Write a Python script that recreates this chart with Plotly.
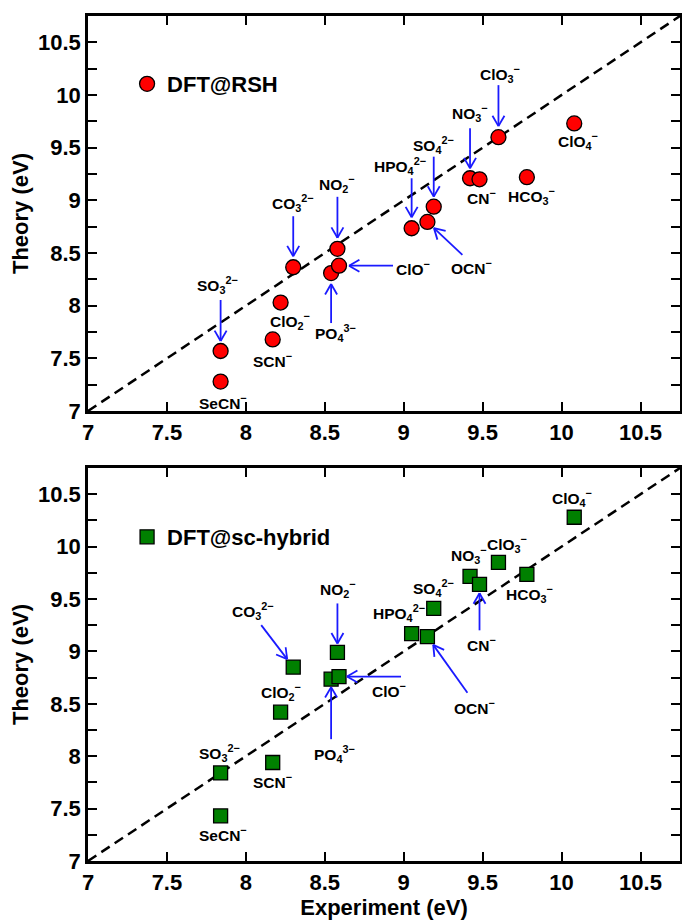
import math
import plotly.graph_objects as go

# ---------------- data ----------------
anions = ["SeCN<sup>−</sup>", "SO<sub>3</sub><sup>2−</sup>", "SCN<sup>−</sup>", "ClO<sub>2</sub><sup>−</sup>",
          "CO<sub>3</sub><sup>2−</sup>", "PO<sub>4</sub><sup>3−</sup>", "NO<sub>2</sub><sup>−</sup>", "ClO<sup>−</sup>",
          "HPO<sub>4</sub><sup>2−</sup>", "OCN<sup>−</sup>", "SO<sub>4</sub><sup>2−</sup>", "NO<sub>3</sub><sup>−</sup>",
          "CN<sup>−</sup>", "ClO<sub>3</sub><sup>−</sup>", "HCO<sub>3</sub><sup>−</sup>", "ClO<sub>4</sub><sup>−</sup>"]
experiment = [7.84, 7.84, 8.17, 8.22, 8.30, 8.54, 8.58, 8.59, 9.05, 9.15, 9.19, 9.42, 9.48, 9.60, 9.78, 10.08]
theory_rsh = [7.28, 7.57, 7.68, 8.03, 8.365, 8.31, 8.54, 8.38, 8.735, 8.795, 8.94, 9.21, 9.20, 9.60, 9.22, 9.73]
theory_hyb = [7.43, 7.84, 7.94, 8.42, 8.85, 8.735, 8.99, 8.76, 9.17, 9.14, 9.41, 9.715, 9.64, 9.85, 9.735, 10.28]

axis_range = [7, 10.75]
x_ticks = [7, 7.5, 8, 8.5, 9, 9.5, 10, 10.5]
x_ticklabels = ["7", "7.5", "8", "8.5", "9", "9.5", "10", "10.5"]

# label offsets in pixels (dx right, dy down) relative to each point
label_off_rsh = [(2, 20), (-3, -66), (0, 21), (9, 18), (0, -64), (4, 60), (0, -65), (74, 2),
                 (-12, -62), (44, 45), (0, -62), (0, -65), (2, 18), (2, -63), (5, 19), (4, 18)]
label_off_hyb = [(2, 18), (-1, -20), (0, 19), (0, -20), (-40, -56), (3, 75), (1, -63), (50, 13),
                 (-13, -21), (47, 70), (0, -20), (-1, -21), (2, 60), (9, -18), (3, 20), (-2, -19)]
# arrows: index -> (tail dx, tail dy, gap between arrow tip and point), pixels, y down
arrows_rsh = {1: (0, -51, 10), 4: (0, -51, 11), 6: (0, -52, 11), 5: (0, 50, 11), 7: (54, 0, 10),
              8: (0, -50, 11), 10: (0, -50, 10), 9: (35, 33, 9), 11: (0, -50, 10), 13: (0, -52, 11)}
arrows_hyb = {4: (-32, -42, 10), 6: (0, -49, 9), 5: (0, 60, 8), 7: (62, 0, 8), 9: (40, 56, 10), 12: (0, 46, 9)}

FONT = "Liberation Sans, Arial, sans-serif"
ARROW_COLOR = "#1a1aff"
HEAD_LEN = 12
HEAD_ANGLE = math.radians(30)

fig = go.Figure()

for xa, ya in [("x", "y"), ("x2", "y2")]:
    fig.add_trace(go.Scatter(x=axis_range, y=axis_range, mode="lines", xaxis=xa, yaxis=ya,
                             line=dict(color="black", width=2.5, dash="10px,6px"),
                             showlegend=False, hoverinfo="skip"))

fig.add_trace(go.Scatter(x=experiment, y=theory_rsh, mode="markers", name="DFT@RSH",
                         xaxis="x", yaxis="y", legend="legend",
                         marker=dict(symbol="circle", size=15, color="#ff0000",
                                     line=dict(color="black", width=1.3))))
fig.add_trace(go.Scatter(x=experiment, y=theory_hyb, mode="markers", name="DFT@sc-hybrid",
                         xaxis="x2", yaxis="y2", legend="legend2",
                         marker=dict(symbol="square", size=14, color="#008000",
                                     line=dict(color="black", width=1.3))))

annotations = []
shapes = []


def pixel_line(xr, yr, xv, yv, p0, p1, width):
    # p0, p1: pixel offsets (right, down) from the data point
    return dict(type="line", xref=xr, yref=yr, xsizemode="pixel", ysizemode="pixel",
                xanchor=xv, yanchor=yv, x0=p0[0], y0=-p0[1], x1=p1[0], y1=-p1[1],
                line=dict(color=ARROW_COLOR, width=width), layer="above")


for xr, yr, theory, offs, arrows in [("x", "y", theory_rsh, label_off_rsh, arrows_rsh),
                                     ("x2", "y2", theory_hyb, label_off_hyb, arrows_hyb)]:
    for i, (xv, yv) in enumerate(zip(experiment, theory)):
        dx, dy = offs[i]
        annotations.append(dict(x=xv, y=yv, xref=xr, yref=yr, text=anions[i], showarrow=False,
                                xshift=dx, yshift=-dy,
                                font=dict(family=FONT, size=15.5, color="black", weight="bold")))
    for i, (ax, ay, gap) in arrows.items():
        xv, yv = experiment[i], theory[i]
        norm = math.hypot(ax, ay)
        ux, uy = ax / norm, ay / norm
        tip = (ux * gap, uy * gap)
        shapes.append(pixel_line(xr, yr, xv, yv, tip, (ax, ay), 1.8))
        for sgn in (1, -1):
            c, s = math.cos(sgn * HEAD_ANGLE), math.sin(sgn * HEAD_ANGLE)
            rx, ry = ux * c - uy * s, ux * s + uy * c
            shapes.append(pixel_line(xr, yr, xv, yv, tip,
                                     (tip[0] + rx * HEAD_LEN, tip[1] + ry * HEAD_LEN), 1.8))

axis_common = dict(range=axis_range, showline=True, linewidth=2.5, linecolor="black", mirror="ticks",
                   ticks="inside", ticklen=9, tickwidth=2, tickcolor="black", showgrid=False,
                   zeroline=False, automargin=False,
                   tickfont=dict(family=FONT, size=22, color="black", weight="bold"))

xaxis = dict(axis_common, tickvals=x_ticks, ticktext=x_ticklabels)
yaxis = dict(axis_common, tickvals=x_ticks, ticktext=x_ticklabels,
             minor=dict(dtick=0.25, ticks="inside", ticklen=9, tickwidth=2, tickcolor="black"))
title_font = dict(family=FONT, size=22, color="black", weight="bold")

fig.update_layout(
    width=682, height=921,
    margin=dict(l=88, r=2, t=16, b=60),
    paper_bgcolor="white", plot_bgcolor="white",
    xaxis=dict(xaxis, domain=[0, 1], anchor="y"),
    yaxis=dict(yaxis, domain=[0.5325, 1.0], anchor="x",
               title=dict(text="Theory (eV)", font=title_font, standoff=4)),
    xaxis2=dict(xaxis, domain=[0, 1], anchor="y2",
                title=dict(text="Experiment (eV)", font=title_font, standoff=1)),
    yaxis2=dict(yaxis, domain=[0, 0.4651], anchor="x2",
                title=dict(text="Theory (eV)", font=title_font, standoff=4)),
    legend=dict(x=0.066, y=0.9195, xanchor="left", yanchor="middle", bgcolor="rgba(0,0,0,0)",
                font=dict(family=FONT, size=22, color="black", weight="bold")),
    legend2=dict(x=0.066, y=0.3834, xanchor="left", yanchor="middle", bgcolor="rgba(0,0,0,0)",
                 font=dict(family=FONT, size=22, color="black", weight="bold")),
    annotations=annotations,
    shapes=shapes,
    font=dict(family=FONT),
)

fig.write_html("out.html", config={"displayModeBar": False},
               post_script="document.body.style.margin='0px';")
